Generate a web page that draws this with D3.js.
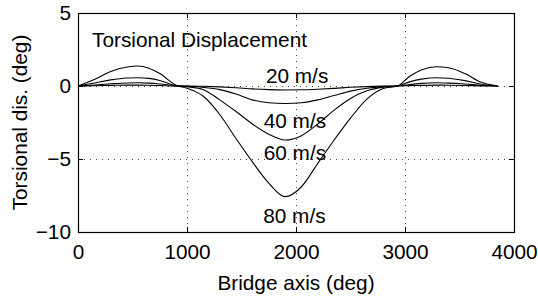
<!DOCTYPE html>
<html>
<head>
<meta charset="utf-8">
<script src="https://cdn.jsdelivr.net/npm/d3@7"></script>
<style>
    body { margin: 0; background: #fff; }
    svg text { font-family: "Liberation Sans", Arial, Helvetica, sans-serif; fill: #000; }
</style>
</head>
<body>
<div id="chart"></div>
<script>
// bridge axis positions (deg)
var bridgeX = [0, 150, 300, 450, 550, 650, 750, 900, 1000, 1150, 1300, 1450, 1600, 1750, 1900,
    2050, 2200, 2350, 2500, 2650, 2800, 2930, 3050, 3150, 3290, 3400, 3550, 3700, 3850];

// torsional displacement (deg) per wind speed
var disp20 = [0, 0.02, 0.04, 0.06, 0.06, 0.05, 0.03, 0, 0, -0.02, -0.06, -0.12, -0.2, -0.25, -0.27,
    -0.26, -0.22, -0.16, -0.09, -0.04, -0.01, 0, 0.025, 0.045, 0.06, 0.055, 0.035, 0.01, 0];
var disp40 = [0, 0.07, 0.15, 0.21, 0.22, 0.2, 0.14, 0.01, -0.02, -0.1, -0.25, -0.55, -0.95, -1.15, -1.2,
    -1.15, -0.95, -0.65, -0.35, -0.15, -0.04, 0, 0.1, 0.18, 0.22, 0.2, 0.14, 0.05, 0];
var disp60 = [0, 0.2, 0.42, 0.55, 0.57, 0.52, 0.38, 0.02, -0.05, -0.25, -0.95, -1.75, -2.6, -3.3, -3.7,
    -3.4, -2.6, -1.65, -0.85, -0.33, -0.08, 0, 0.3, 0.47, 0.57, 0.53, 0.37, 0.12, 0];
var disp80 = [0, 0.45, 1.0, 1.3, 1.37, 1.22, 0.85, 0.05, -0.15, -0.7, -1.95, -3.6, -5.2, -6.65, -7.58,
    -6.9, -5.3, -3.7, -2.2, -0.9, -0.17, 0, 0.7, 1.1, 1.32, 1.25, 0.85, 0.25, 0];

var seriesNames = ["20 m/s", "40 m/s", "60 m/s", "80 m/s"];
var seriesValues = [disp20, disp40, disp60, disp80];

// where the speed labels sit, in data units
var labelX = [2010, 1990, 1990, 1985];
var labelY = [0.2, -2.88, -5.07, -9.38];

var xTicks = [0, 1000, 2000, 3000, 4000];
var yTicks = [-10, -5, 0, 5];

var fullWidth = 538;
var fullHeight = 300;
var margins = {top: 13, right: 24, bottom: 68, left: 78};
var width = fullWidth - margins.left - margins.right;
var height = fullHeight - margins.top - margins.bottom;
var fontSize = "20.8px";

var canvas = d3.select("#chart").append("svg")
    .attr("width", fullWidth)
    .attr("height", fullHeight);

var svg = canvas.append("g")
    .attr("transform", "translate(" + margins.left + "," + margins.top + ")");

var xScale = d3.scaleLinear().domain([0, 4000]).range([0, width]);
var yScale = d3.scaleLinear().domain([-10, 5]).range([height, 0]);

// dotted grid
var grid = svg.append("g").attr("class", "grid")
    .attr("stroke", "#444")
    .attr("stroke-width", 1)
    .attr("stroke-dasharray", "1,5");
grid.selectAll("line.gx")
    .data(xTicks.filter(function(d) { return d > 0 && d < 4000; }))
    .enter().append("line")
    .attr("x1", function(d) { return Math.round(xScale(d)) + 0.5; })
    .attr("x2", function(d) { return Math.round(xScale(d)) + 0.5; })
    .attr("y1", 0)
    .attr("y2", height);
grid.selectAll("line.gy")
    .data(yTicks.filter(function(d) { return d > -10 && d < 5; }))
    .enter().append("line")
    .attr("y1", function(d) { return Math.round(yScale(d)) + 0.5; })
    .attr("y2", function(d) { return Math.round(yScale(d)) + 0.5; })
    .attr("x1", 0)
    .attr("x2", width);

// series lines
var line = d3.line()
    .x(function(d, i) { return xScale(bridgeX[i]); })
    .y(function(d) { return yScale(d); })
    .curve(d3.curveMonotoneX);

svg.append("g").attr("class", "series")
    .selectAll("path")
    .data(seriesValues)
    .enter().append("path")
    .attr("d", line)
    .attr("fill", "none")
    .attr("stroke", "#000")
    .attr("stroke-width", 1.1);

// axes with inward ticks, MATLAB style
var xAxis = d3.axisBottom(xScale).tickValues(xTicks).tickFormat(d3.format("d"))
    .tickSizeInner(-5).tickSizeOuter(0).tickPadding(12);
var yAxis = d3.axisLeft(yScale).tickValues(yTicks)
    .tickSizeInner(-5).tickSizeOuter(0).tickPadding(7);

var xAxisContainer = svg.append("g")
    .attr("transform", "translate(0," + height + ")")
    .call(xAxis);
var yAxisContainer = svg.append("g").call(yAxis);

svg.append("g")
    .call(d3.axisTop(xScale).tickValues(xTicks).tickSizeInner(-5).tickSizeOuter(0).tickFormat(""));
svg.append("g")
    .attr("transform", "translate(" + width + ",0)")
    .call(d3.axisRight(yScale).tickValues(yTicks).tickSizeInner(-5).tickSizeOuter(0).tickFormat(""));

svg.selectAll(".domain").remove();
svg.selectAll(".tick line").attr("stroke", "#000");
svg.selectAll(".tick text").attr("font-size", fontSize).attr("font-family", null);

svg.append("rect")
    .attr("x", 0.5)
    .attr("y", 0.5)
    .attr("width", width)
    .attr("height", height)
    .attr("fill", "none")
    .attr("stroke", "#000")
    .attr("stroke-width", 1.2);

// annotations
svg.append("text")
    .attr("x", 92 - margins.left)
    .attr("y", 47 - margins.top)
    .attr("font-size", fontSize)
    .text("Torsional Displacement");

svg.selectAll("text.speed")
    .data(seriesNames)
    .enter().append("text")
    .attr("class", "speed")
    .attr("x", function(d, i) { return xScale(labelX[i]); })
    .attr("y", function(d, i) { return yScale(labelY[i]); })
    .attr("text-anchor", "middle")
    .attr("font-size", fontSize)
    .text(function(d) { return d; });

// axis titles
svg.append("text")
    .attr("x", width / 2)
    .attr("y", height + 58)
    .attr("text-anchor", "middle")
    .attr("font-size", fontSize)
    .text("Bridge axis (deg)");

svg.append("text")
    .attr("transform", "translate(" + (27 - margins.left) + "," + (height / 2) + ") rotate(-90)")
    .attr("text-anchor", "middle")
    .attr("font-size", fontSize)
    .text("Torsional dis. (deg)");
</script>
</body>
</html>
